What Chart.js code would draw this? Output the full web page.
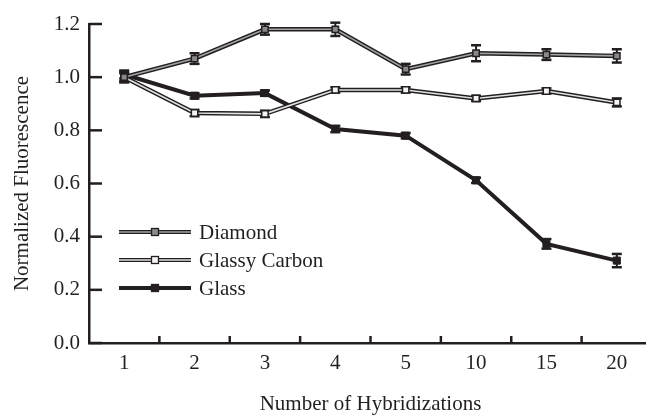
<!DOCTYPE html>
<html>
<head>
<meta charset="utf-8">
<script src="https://cdn.jsdelivr.net/npm/chart.js@4.4.0/dist/chart.umd.min.js"></script>
<style>
  html, body { margin: 0; padding: 0; background: #fff; overflow: hidden; }
  #wrap { width: 660px; height: 415px; }
</style>
</head>
<body>
<div id="wrap"><canvas id="c" width="660" height="415"></canvas></div>
<script>
const categories = ['1', '2', '3', '4', '5', '10', '15', '20'];
const diamond      = [1.00, 1.07, 1.18, 1.18, 1.03, 1.09, 1.085, 1.08];
const diamondErr   = [0.02, 0.02, 0.02, 0.025, 0.02, 0.03, 0.02, 0.025];
const glassyCarbon = [1.00, 0.865, 0.862, 0.952, 0.952, 0.92, 0.948, 0.905];
const glassyErr    = [0.015, 0.012, 0.012, 0.01, 0.01, 0.01, 0.01, 0.015];
const glass        = [1.01, 0.93, 0.94, 0.805, 0.78, 0.612, 0.373, 0.31];
const glassErr     = [0.015, 0.01, 0.01, 0.012, 0.01, 0.01, 0.018, 0.025];
const yTicks = [0.0, 0.2, 0.4, 0.6, 0.8, 1.0, 1.2];
const seriesNames = ['Diamond', 'Glassy Carbon', 'Glass'];

const DARK = '#231f20';
const FONT = 'Liberation Serif';

const series = [
  { name: seriesNames[0], data: diamond, err: diamondErr, inner: '#a3a3a3', fill: '#8a8a8a', outerW: 4.5, innerW: 1.6, size: 4.5 },
  { name: seriesNames[1], data: glassyCarbon, err: glassyErr, inner: '#e2e2e2', fill: '#f4f4f4', outerW: 4.5, innerW: 1.6, size: 4.5 },
  { name: seriesNames[2], data: glass, err: glassErr, inner: null, fill: DARK, outerW: 4, innerW: 0, size: 5 }
];

const datasets = [];
series.forEach((s, k) => {
  // base (dark, thick) line
  datasets.push({
    label: s.name + ' base', data: s.data,
    borderColor: DARK, borderWidth: s.outerW, pointRadius: s.inner ? 0 : s.size,
    pointStyle: 'rect', pointBackgroundColor: DARK, pointBorderColor: DARK, pointBorderWidth: 1,
    tension: 0, order: 10 + k, errIdx: k
  });
  if (s.inner) {
    datasets.push({
      label: s.name, data: s.data,
      borderColor: s.inner, borderWidth: s.innerW, pointRadius: s.size,
      pointStyle: 'rect', pointBackgroundColor: s.fill, pointBorderColor: DARK, pointBorderWidth: 1.5,
      tension: 0, order: k
    });
  }
});

const decor = {
  id: 'decor',
  beforeDatasetsDraw(chart) {
    const ctx = chart.ctx, y = chart.scales.y, x = chart.scales.x;
    ctx.save();
    ctx.strokeStyle = DARK;
    series.forEach(s => {
      s.data.forEach((v, i) => {
        const px = x.getPixelForValue(i);
        const t = y.getPixelForValue(v + s.err[i]);
        const b = y.getPixelForValue(v - s.err[i]);
        ctx.lineWidth = 2;
        ctx.beginPath(); ctx.moveTo(px, t); ctx.lineTo(px, b); ctx.stroke();
        ctx.lineWidth = 2.5;
        ctx.beginPath(); ctx.moveTo(px - 5, t); ctx.lineTo(px + 5, t); ctx.stroke();
        ctx.beginPath(); ctx.moveTo(px - 5, b); ctx.lineTo(px + 5, b); ctx.stroke();
      });
    });
    ctx.restore();
  },
  afterDraw(chart) {
    const ctx = chart.ctx, y = chart.scales.y, x = chart.scales.x;
    const area = chart.chartArea;
    ctx.save();
    ctx.strokeStyle = DARK;
    ctx.lineWidth = 2.5;
    // inward y ticks
    yTicks.forEach(v => {
      const py = y.getPixelForValue(v);
      ctx.beginPath(); ctx.moveTo(area.left, py); ctx.lineTo(area.left + 13, py); ctx.stroke();
    });
    // inward x ticks at category boundaries
    for (let i = 1; i < categories.length; i++) {
      const px = (x.getPixelForValue(i - 1) + x.getPixelForValue(i)) / 2;
      ctx.beginPath(); ctx.moveTo(px, area.bottom); ctx.lineTo(px, area.bottom - 7); ctx.stroke();
    }
    // legend
    const lx0 = 119, lx1 = 191, mx = 155, tx = 199;
    const ly = [232, 260, 288];
    ctx.font = '21px "' + FONT + '"';
    ctx.textBaseline = 'middle';
    ctx.textAlign = 'left';
    series.forEach((s, k) => {
      const yy = ly[k];
      ctx.lineCap = 'butt';
      ctx.strokeStyle = DARK;
      ctx.lineWidth = s.inner ? 4 : 4;
      ctx.beginPath(); ctx.moveTo(lx0, yy); ctx.lineTo(lx1, yy); ctx.stroke();
      if (s.inner) {
        ctx.strokeStyle = s.inner; ctx.lineWidth = 1.6;
        ctx.beginPath(); ctx.moveTo(lx0, yy); ctx.lineTo(lx1, yy); ctx.stroke();
      }
      ctx.fillStyle = s.fill;
      ctx.fillRect(mx - 3.5, yy - 3.5, 7, 7);
      ctx.strokeStyle = DARK; ctx.lineWidth = 1.3;
      ctx.strokeRect(mx - 3.5, yy - 3.5, 7, 7);
      ctx.fillStyle = DARK;
      ctx.fillText(s.name, tx, yy + 1);
    });
    ctx.restore();
  }
};

new Chart(document.getElementById('c'), {
  type: 'line',
  data: { labels: categories, datasets },
  plugins: [decor],
  options: {
    responsive: false,
    devicePixelRatio: 1,
    animation: false,
    layout: { padding: { top: 24, right: 8, left: 0, bottom: 0 } },
    plugins: { legend: { display: false }, tooltip: { enabled: false } },
    scales: {
      x: {
        type: 'category',
        offset: true,
        grid: { display: false, drawTicks: false, offset: true },
        border: { display: true, color: DARK, width: 2.5 },
        ticks: { color: DARK, padding: 8, font: { family: FONT, size: 21, lineHeight: 1.2 }, maxRotation: 0 },
        title: { display: true, text: 'Number of Hybridizations', color: DARK,
                 font: { family: FONT, size: 21, lineHeight: 1 }, padding: { top: 0, bottom: 0 } },
        afterFit(s) { s.height = 72; }
      },
      y: {
        min: 0, max: 1.2,
        grid: { display: false, drawTicks: false },
        border: { display: true, color: DARK, width: 2.5 },
        ticks: { color: DARK, padding: 9, stepSize: 0.2, font: { family: FONT, size: 21 },
                 callback: (v) => Number(v).toFixed(1) },
        title: { display: true, text: 'Normalized Fluorescence', color: DARK,
                 font: { family: FONT, size: 21, lineHeight: 1 }, padding: { top: 12, bottom: 0 } },
        afterFit(s) { s.width = 89; }
      }
    }
  }
});
</script>
</body>
</html>
